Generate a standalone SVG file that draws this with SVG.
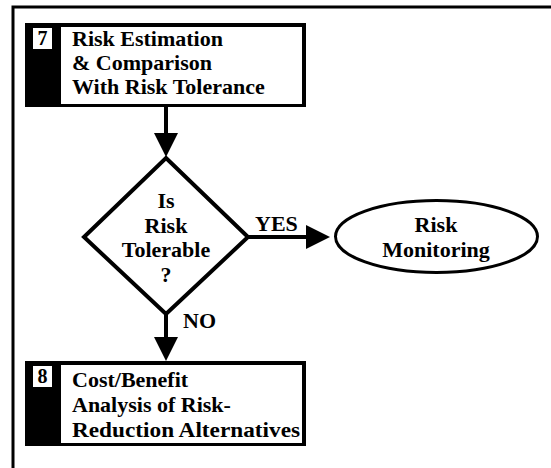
<svg xmlns="http://www.w3.org/2000/svg" width="551" height="468" viewBox="0 0 551 468">
<style>
.t{font-family:"Liberation Serif","Times New Roman",serif;font-weight:bold;font-size:22px;fill:#000}
.n{font-size:20px}
.c{text-anchor:middle}
.ln{stroke:#000;stroke-width:4;fill:none}
</style>
<defs>
<marker id="ah" markerWidth="24" markerHeight="24" viewBox="0 0 24 24" refX="0" refY="12" orient="auto" markerUnits="userSpaceOnUse">
<path d="M0,0 L24,12 L0,24 Z" fill="#000"/>
</marker>
</defs>
<rect width="551" height="468" fill="#fff"/>
<path d="M13,468 V7 H551" stroke="#000" stroke-width="3" fill="none"/>
<g id="connectors">
<line class="ln" x1="166" y1="107" x2="166" y2="133" marker-end="url(#ah)"/>
<line class="ln" x1="248" y1="237" x2="306" y2="237" marker-end="url(#ah)"/>
<line class="ln" x1="166" y1="314" x2="166" y2="337" marker-end="url(#ah)"/>
<text class="t" x="255" y="231">YES</text>
<text class="t" x="183" y="328">NO</text>
</g>
<g id="step7">
<rect x="25" y="23" width="281" height="84" fill="#000"/>
<rect x="61" y="27" width="241" height="77" fill="#fff"/>
<rect x="33" y="28" width="19" height="21" fill="#fff"/>
<text class="t n c" x="42.5" y="45">7</text>
<text class="t" x="72" y="46">Risk Estimation</text>
<text class="t" x="72" y="70">&amp; Comparison</text>
<text class="t" x="72" y="94">With Risk Tolerance</text>
</g>
<g id="decision">
<polygon points="166,158 248,237 166,314 84,237" fill="#fff" stroke="#000" stroke-width="4"/>
<text class="t c" x="166" y="208">Is</text>
<text class="t c" x="166" y="233">Risk</text>
<text class="t c" x="166" y="257">Tolerable</text>
<text class="t c" x="166" y="282">?</text>
</g>
<g id="monitoring">
<ellipse cx="436.5" cy="236.5" rx="101" ry="36" fill="#fff" stroke="#000" stroke-width="3"/>
<text class="t c" x="436" y="232">Risk</text>
<text class="t c" x="436" y="257">Monitoring</text>
</g>
<g id="step8">
<rect x="25" y="361" width="281" height="85" fill="#000"/>
<rect x="61" y="365" width="241" height="78" fill="#fff"/>
<rect x="33" y="366" width="19" height="21" fill="#fff"/>
<text class="t n c" x="42.5" y="383">8</text>
<text class="t" x="72" y="387">Cost/Benefit</text>
<text class="t" x="72" y="412">Analysis of Risk-</text>
<text class="t" x="72" y="437" textLength="228" lengthAdjust="spacingAndGlyphs">Reduction Alternatives</text>
</g>
</svg>
